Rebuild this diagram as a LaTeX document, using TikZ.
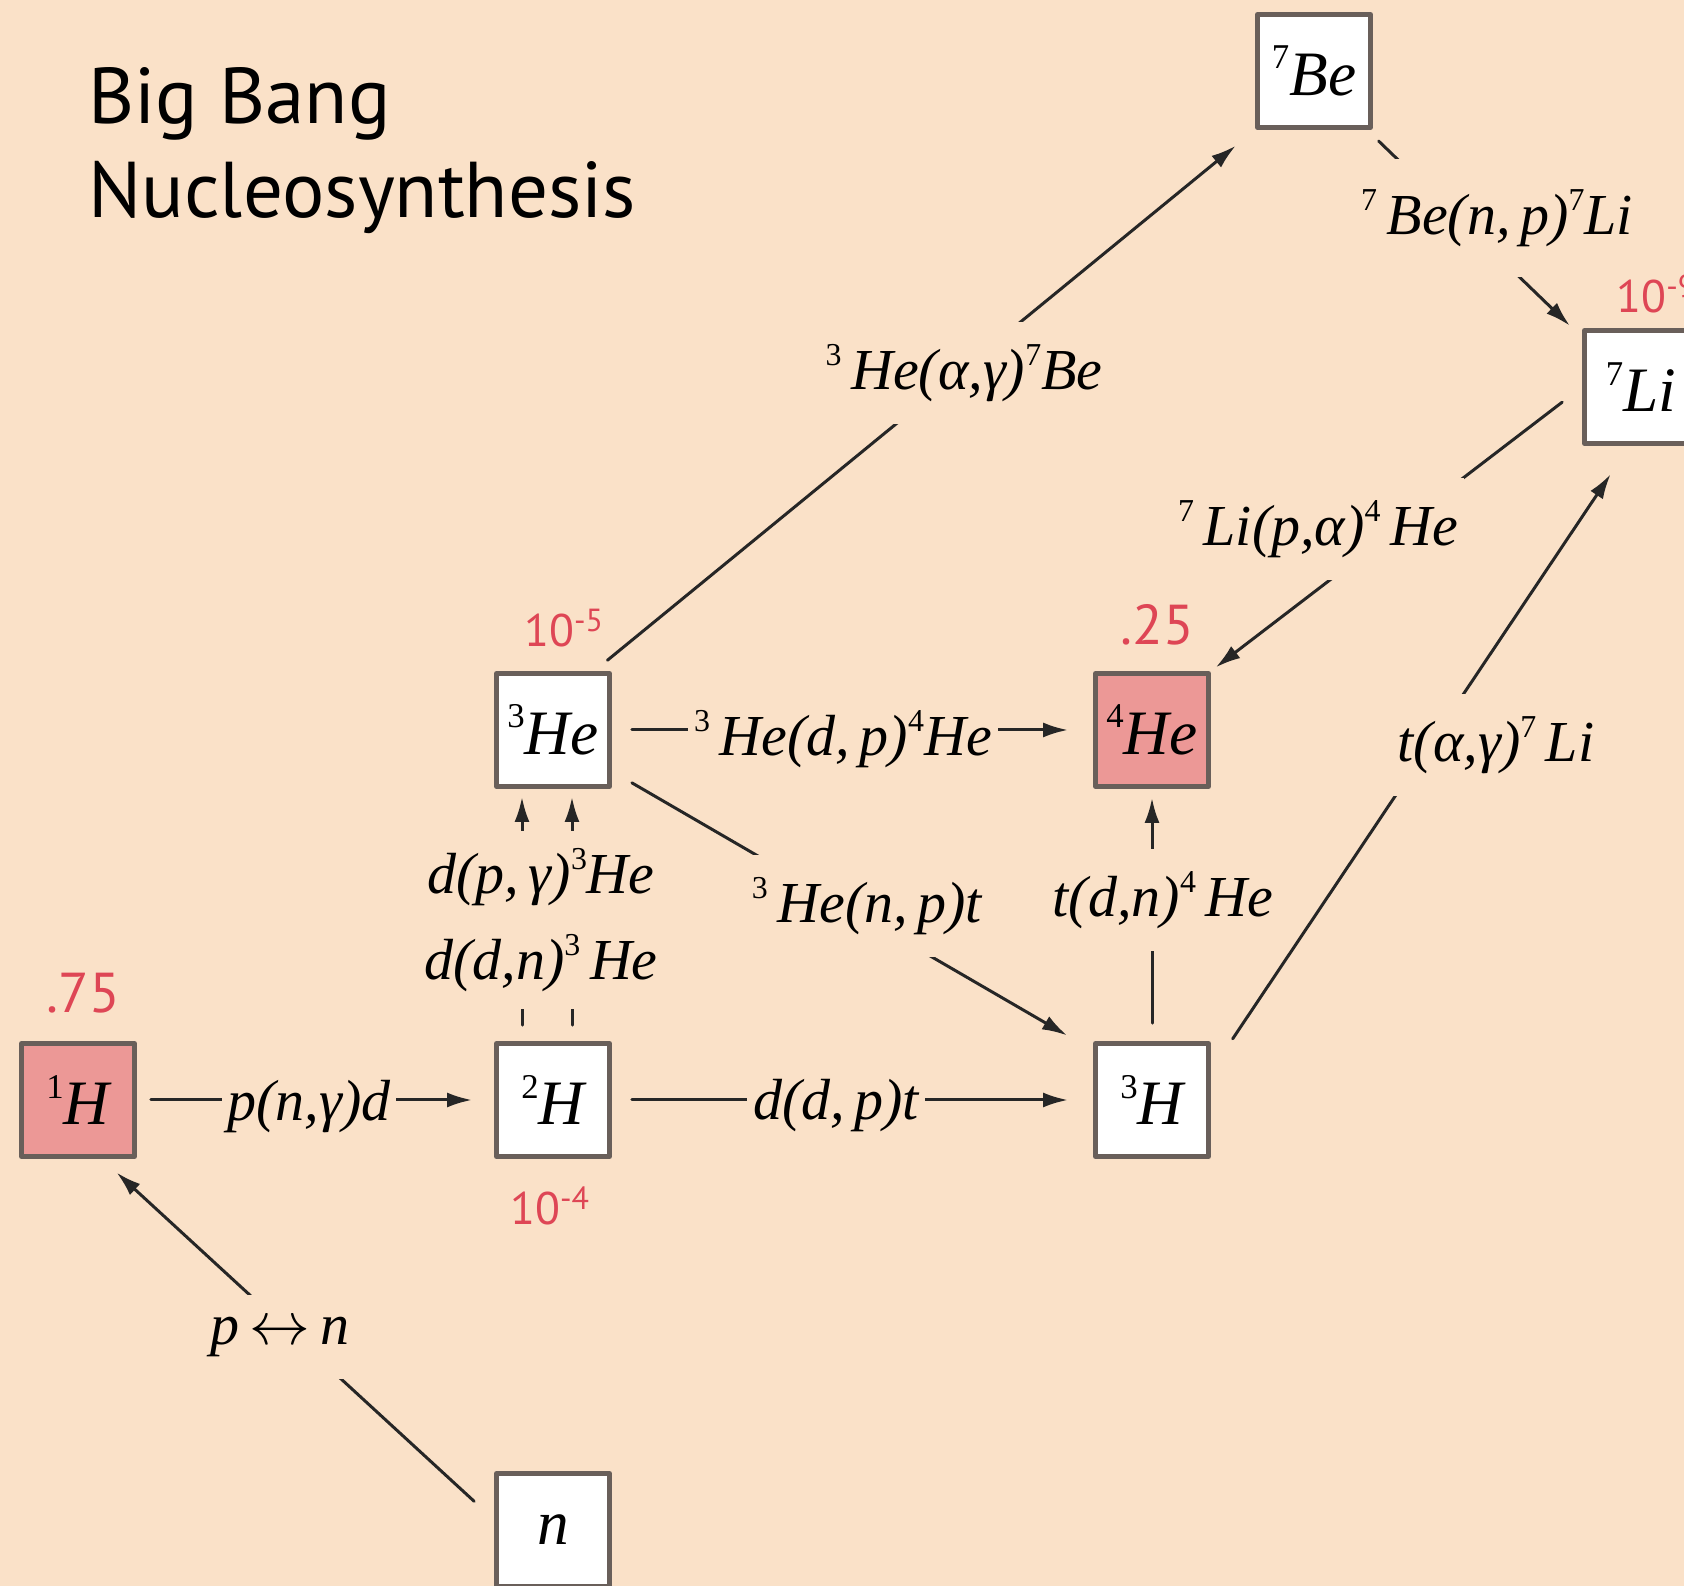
\documentclass[tikz,border=0pt]{standalone}
\usepackage{fontspec}
\setmainfont{Liberation Serif}
\newfontfamily\abundfont{PT Sans}
\usetikzlibrary{arrows.meta}
\definecolor{peach}{RGB}{250,225,200}
\definecolor{rose}{RGB}{236,152,150}
\definecolor{boxline}{RGB}{105,95,90}
\definecolor{abund}{RGB}{222,70,85}
\newcommand{\iso}[2]{\raisebox{0.42em}{\upshape\scalebox{0.55}{#1}}#2}
\begin{document}
\begin{tikzpicture}[x=1cm,y=1cm,line cap=round,line join=round,
    nuc/.style={draw=boxline,line width=1.4pt,fill=white,minimum size=1.13cm,inner sep=0pt,
      font=\fontsize{18}{20}\selectfont\itshape},
    nucmain/.style={nuc,fill=rose},
    react/.style={draw=black!85,line width=0.85pt,-{Latex[length=2.5mm,width=1.5mm]}},
    rxn/.style={fill=peach,inner xsep=0.06cm,inner ysep=0.22cm,
      font=\fontsize{16.5}{18}\selectfont\itshape},
    rxnpair/.style={rxn,inner ysep=0.17cm},
    frac/.style={text=abund,font=\abundfont\fontsize{16}{18}\selectfont},
    fracexp/.style={text=abund,font=\abundfont\fontsize{13}{15}\selectfont,anchor=base west},
    title/.style={font=\abundfont\fontsize{22.5}{26}\selectfont,anchor=base west}]
  \useasboundingbox (0,0) rectangle (16.84,15.86);
  \clip (0,0) rectangle (16.84,15.86);
  \fill[peach] (0,0) rectangle (16.84,15.86);

  \node[title] (ttlA) at (0.76,14.62) {Big Bang};
  \node[title] (ttlB) at ([yshift=-0.94cm]ttlA.base west) {Nucleosynthesis};

  \node[nucmain] (H1) at (0.78,4.86) {\iso{1}{H}};
  \node[nuc] (H2) at (5.53,4.86) {\iso{2}{H}};
  \node[nuc] (H3) at (11.52,4.86) {\iso{3}{H}};
  \node[nuc] (He3) at (5.53,8.56) {\iso{3}{He}};
  \node[nucmain] (He4) at (11.52,8.56) {\iso{4}{He}};
  \node[nuc] (Be7) at (13.14,15.15) {\iso{7}{Be}};
  \node[nuc] (Li7) at (16.41,11.99) {\iso{7}{Li}};
  \node[nuc] (n) at (5.53,0.56) {n};

  \draw[react,shorten <=0.27cm,shorten >=0.2cm] (n.170) -- (H1.-68);
  \draw[react,shorten <=0.14cm,shorten >=0.22cm] (H1) -- (H2);
  \draw[react,shorten <=0.2cm,shorten >=0.25cm] (H2) -- (H3);
  \draw[react,shorten <=0.2cm,shorten >=0.25cm] (He3) -- (He4);
  \draw[react,shorten <=0.16cm,shorten >=0.08cm] ([xshift=-0.31cm]H2.north) -- ([xshift=-0.31cm]He3.south);
  \draw[react,shorten <=0.16cm,shorten >=0.08cm] ([xshift=0.19cm]H2.north) -- ([xshift=0.19cm]He3.south);
  \draw[react,shorten <=0.23cm,shorten >=0.3cm] (He3.-35) -- (H3.140);
  \draw[react,shorten <=0.18cm,shorten >=0.09cm] (H3) -- (He4);
  \draw[react,shorten <=0.39cm,shorten >=0.34cm] (H3.26) -- (Li7.-101);
  \draw[react,shorten <=0.17cm,shorten >=0.25cm] (He3.55) -- (Be7.south west);
  \draw[react,shorten <=0.16cm,shorten >=0.17cm] (Be7.-48) -- (Li7.140);
  \draw[react,shorten <=0.25cm,shorten >=0.06cm] (Li7.west) -- (He4.north east);

  \node[rxn] (rHeBe) at (9.64,12.13) {\iso{3}{\,He}(α,γ)\iso{7}{Be}};
  \node[rxn,inner ysep=0.3cm] (rBeLi) at (14.97,13.68) {\iso{7}{\,Be}(n,\,p)\iso{7}{Li}};
  \node[rxn] (rLiHe) at (13.18,10.57) {\iso{7}{\,Li}(p,α)\iso{4}{\,He}};
  \node[rxn] (rtLi) at (14.96,8.41) {t(α,γ)\iso{7}{\,Li}};
  \node[rxn] (rHedp) at (8.43,8.47) {\iso{3}{\,He}(d,\,p)\iso{4}{He}};
  \node[rxnpair] (rdpg) at (5.41,7.09) {d(p,\,γ)\iso{3}{He}};
  \node[rxn] (rHenp) at (8.67,6.80) {\iso{3}{\,He}(n,\,p)t};
  \node[rxn] (rtdn) at (11.63,6.86) {t(d,n)\iso{4}{\,He}};
  \node[rxnpair] (rddn) at (5.41,6.23) {d(d,n)\iso{3}{\,He}};
  \node[rxn] (rpng) at (3.09,4.79) {p(n,γ)d};
  \node[rxn] (rddp) at (8.36,4.80) {d(d,\,p)t};
  \node[rxn] (rpn) at (2.80,2.49) {p\,$\leftrightarrow$\,n};

  \node[frac,anchor=base] (fH1) at (0.83,5.73) {.75};
  \node[fracexp] (fH2) at (4.98,3.61) {10\textsuperscript{-4}};
  \node[fracexp] (fHe3) at (5.12,9.39) {10\textsuperscript{-5}};
  \node[frac,anchor=base] (fHe4) at (11.57,9.41) {.25};
  \node[fracexp] (fLi7) at (16.04,12.73) {10\textsuperscript{-9}};
\end{tikzpicture}
\end{document}
